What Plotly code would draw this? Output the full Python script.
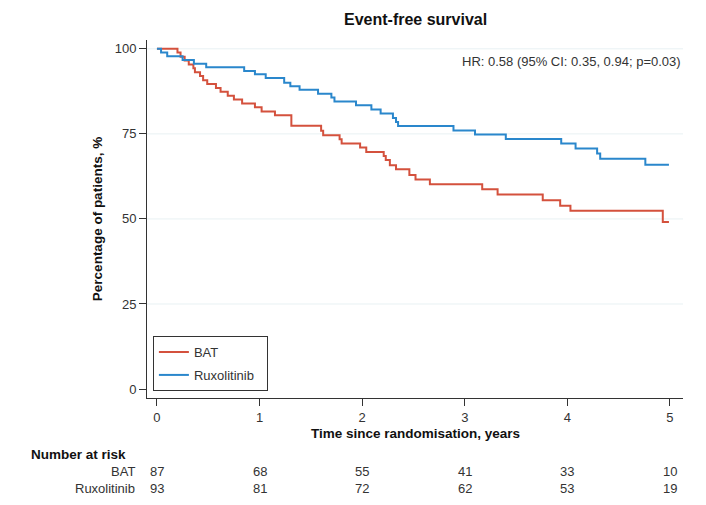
import plotly.graph_objects as go

# ---- data ----
bat_t = [0, 0.20, 0.23, 0.27, 0.31, 0.355, 0.37, 0.42, 0.45, 0.49, 0.575, 0.62, 0.69, 0.75,
         0.83, 0.955, 1.02, 1.15, 1.31, 1.60, 1.62, 1.78, 1.80, 1.98, 2.04, 2.21, 2.23, 2.27,
         2.33, 2.46, 2.52, 2.66, 3.17, 3.32, 3.76, 3.93, 4.03, 4.93, 4.99]
bat_s = [100, 98.9, 97.7, 96.6, 95.4, 94.3, 93.1, 92.0, 90.8, 89.7, 88.5, 87.4, 86.2, 85.1,
         83.9, 82.8, 81.6, 80.5, 77.4, 75.9, 74.6, 73.4, 72.2, 71.0, 69.7, 68.5, 67.3, 65.8,
         64.6, 62.9, 61.6, 60.2, 58.7, 57.2, 55.5, 53.9, 52.4, 49.1, 49.1]

rux_t = [0, 0.04, 0.10, 0.25, 0.36, 0.48, 0.85, 0.955, 1.06, 1.24, 1.30, 1.39, 1.57, 1.70,
         1.73, 1.94, 2.09, 2.18, 2.30, 2.33, 2.35, 2.89, 3.10, 3.40, 3.94, 4.08, 4.29, 4.32,
         4.76, 4.99]
rux_s = [100, 98.9, 97.8, 96.7, 95.6, 94.6, 93.5, 92.5, 91.4, 90.0, 89.0, 88.0, 86.8, 85.7,
         84.5, 83.4, 82.2, 81.0, 79.7, 78.5, 77.3, 76.0, 74.8, 73.5, 72.2, 70.7, 69.2, 67.7,
         65.9, 65.9]

risk_times = [0, 1, 2, 3, 4, 5]
risk_bat = [87, 68, 55, 41, 33, 10]
risk_rux = [93, 81, 72, 62, 53, 19]

x_ticks = [0, 1, 2, 3, 4, 5]
y_ticks = [0, 25, 50, 75, 100]
grid_vals = [25, 50, 75, 100]

title_text = "Event-free survival"
hr_text = "HR: 0.58 (95% CI: 0.35, 0.94; p=0.03)"
x_title = "Time since randomisation, years"
y_title = "Percentage of patients, %"

RED = "#d4513d"
BLUE = "#2a87cc"
FONT = "Liberation Sans, Arial, sans-serif"
TXT = "#333333"
PAD = "\u00a0" * 2

fig = go.Figure()
fig.add_trace(go.Scatter(x=bat_t, y=bat_s, mode="lines", line_shape="hv",
                         line=dict(color=RED, width=2), name="BAT",
                         legendgroup="g1"))
fig.add_trace(go.Scatter(x=rux_t, y=rux_s, mode="lines", line_shape="hv",
                         line=dict(color=BLUE, width=2), name="Ruxolitinib" + PAD,
                         legendgroup="g2"))

annotations = [
    dict(text="<b>" + title_text + "</b>", x=0.5, y=1, xref="paper", yref="paper",
         yshift=21, xanchor="center", yanchor="middle", showarrow=False,
         font=dict(size=16, color="#111111")),
    dict(text=hr_text, x=1, y=0.94, xref="paper", yref="paper", xanchor="right",
         yanchor="middle", showarrow=False, font=dict(size=13, color=TXT)),
    dict(text="<b>" + x_title + "</b>", x=0.5, y=-0.098, xref="paper", yref="paper",
         xanchor="center", yanchor="middle", showarrow=False,
         font=dict(size=13.5, color="#111111")),
    dict(text="<b>" + y_title + "</b>", x=-0.093, y=0.5, xref="paper", yref="paper",
         xanchor="center", yanchor="middle", textangle=-90, showarrow=False,
         font=dict(size=13.5, color="#111111")),
    dict(text="<b>Number at risk</b>", x=-0.22, y=-0.159, xref="paper", yref="paper",
         xanchor="left", yanchor="middle", showarrow=False,
         font=dict(size=13.5, color="#111111")),
    dict(text="BAT", x=-0.018, y=-0.206, xref="paper", yref="paper",
         xanchor="right", yanchor="middle", showarrow=False, font=dict(size=13, color=TXT)),
    dict(text="Ruxolitinib", x=-0.018, y=-0.254, xref="paper", yref="paper",
         xanchor="right", yanchor="middle", showarrow=False, font=dict(size=13, color=TXT)),
]
for t, b, r in zip(risk_times, risk_bat, risk_rux):
    annotations.append(dict(text=str(b), x=t, y=-0.206, xref="x", yref="paper",
                            xanchor="center", yanchor="middle", showarrow=False,
                            font=dict(size=13, color=TXT)))
    annotations.append(dict(text=str(r), x=t, y=-0.254, xref="x", yref="paper",
                            xanchor="center", yanchor="middle", showarrow=False,
                            font=dict(size=13, color=TXT)))

shapes = [dict(type="line", xref="paper", yref="y", x0=0, x1=1, y0=g, y1=g,
               line=dict(color="#e8f1f3", width=1), layer="below") for g in grid_vals]

fig.update_layout(
    width=698, height=497,
    margin=dict(l=139, r=23, t=32, b=107),
    paper_bgcolor="white", plot_bgcolor="white",
    font=dict(family=FONT, size=13, color=TXT),
    showlegend=True,
    legend=dict(x=0.011, y=0.173, xanchor="left", yanchor="top",
                bordercolor="#333333", borderwidth=1, bgcolor="white",
                font=dict(size=13, color=TXT), tracegroupgap=3,
                itemwidth=30),
    annotations=annotations,
    shapes=shapes,
    xaxis=dict(range=[-0.097, 5.127], tickvals=x_ticks, ticks="outside", ticklen=7,
               tickcolor="#333333", showline=True, linecolor="#333333", linewidth=1,
               showgrid=False, zeroline=False, tickfont=dict(size=13, color=TXT)),
    yaxis=dict(range=[-2.64, 102.6], tickvals=y_ticks, ticks="outside", ticklen=7,
               tickcolor="#333333", showline=True, linecolor="#333333", linewidth=1,
               showgrid=False, zeroline=False,
               tickfont=dict(size=13, color=TXT)),
)

fig.write_html("out.html")
